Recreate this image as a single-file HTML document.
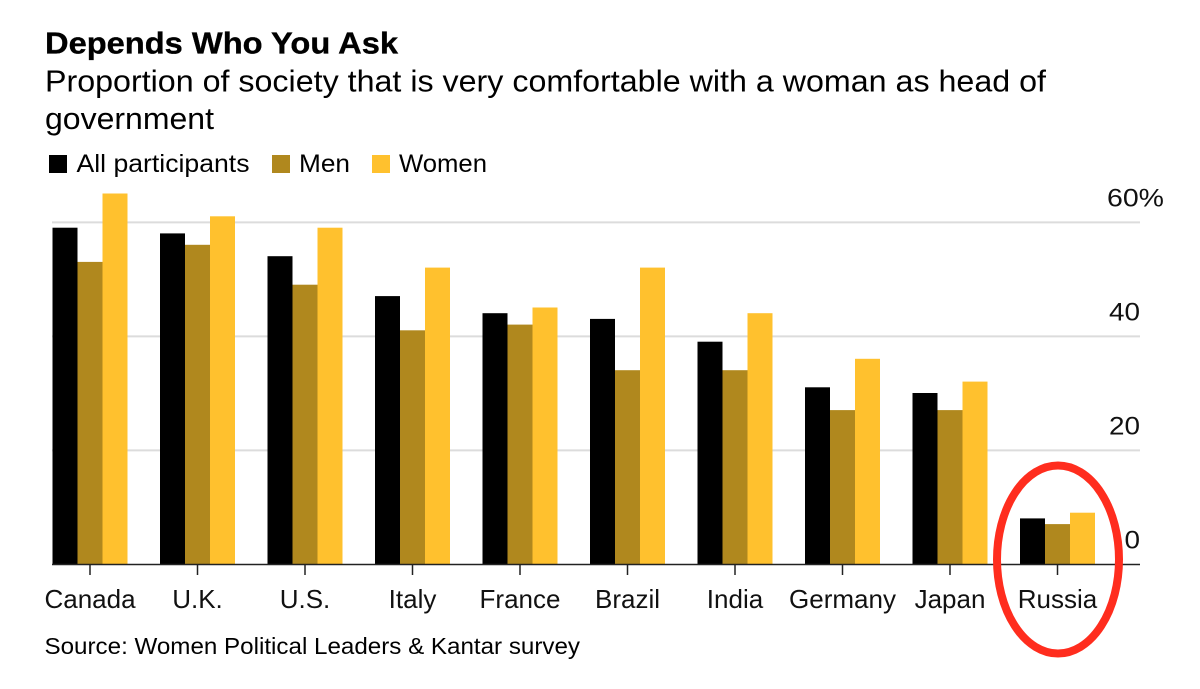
<!DOCTYPE html>
<html lang="en">
<head>
<meta charset="utf-8">
<title>Depends Who You Ask</title>
<style>
html,body{margin:0;padding:0;background:#fff;}
svg{display:block;font-family:"Liberation Sans",Arial,sans-serif;}
</style>
</head>
<body>
<svg id="chart" width="1200" height="689" viewBox="0 0 1200 689" xmlns="http://www.w3.org/2000/svg">
  <rect width="1200" height="689" fill="#fff"/>
  <text x="45" y="53.5" font-size="31" font-weight="700" fill="#000" stroke="#000" stroke-width="0.35" textLength="353" lengthAdjust="spacingAndGlyphs">Depends Who You Ask</text>
  <text x="45" y="91.5" font-size="31" fill="#000" textLength="1001" lengthAdjust="spacingAndGlyphs">Proportion of society that is very comfortable with a woman as head of</text>
  <text x="45" y="129" font-size="31" fill="#000" textLength="169" lengthAdjust="spacingAndGlyphs">government</text>

  <g>
    <rect x="49" y="155" width="18" height="18" fill="#000"/>
    <text x="76.5" y="172" font-size="25" fill="#000" textLength="173" lengthAdjust="spacingAndGlyphs">All participants</text>
    <rect x="272" y="155" width="18" height="18" fill="#B0881E"/>
    <text x="299" y="172" font-size="25" fill="#000" textLength="51" lengthAdjust="spacingAndGlyphs">Men</text>
    <rect x="372" y="155" width="18" height="18" fill="#FFC12E"/>
    <text x="399" y="172" font-size="25" fill="#000" textLength="88" lengthAdjust="spacingAndGlyphs">Women</text>
  </g>

  <g id="grid"></g>
  <g id="yLabels"></g>
  <g id="bars"></g>
  <line x1="52" y1="564.5" x2="1140" y2="564.5" stroke="#222" stroke-width="1.6"/>
  <g id="xAxis"></g>

  <text x="44.5" y="654" font-size="23" fill="#000" textLength="535.5" lengthAdjust="spacingAndGlyphs">Source: Women Political Leaders &amp; Kantar survey</text>

  <ellipse cx="1058" cy="559.5" rx="61" ry="94" fill="none" stroke="#FF2D1E" stroke-width="8"/>
</svg>
<script>
const categories = ["Canada","U.K.","U.S.","Italy","France","Brazil","India","Germany","Japan","Russia"];
const allParticipants = [59,58,54,47,44,43,39,31,30,8];
const men = [53,56,49,41,42,34,34,27,27,7];
const women = [65,61,59,52,45,52,44,36,32,9];
const yTicks = [0,20,40,60];
const yTickLabels = ["0","20","40","60%"];

const NS = "http://www.w3.org/2000/svg";
function yScale(v){ return 564 - v * (342 / 60); }
function xCenter(i){ return 90 + i * ((1057.5 - 90) / 9); }
const BAR_W = 25;

const grid = document.getElementById("grid");
const yLabels = document.getElementById("yLabels");
const bars = document.getElementById("bars");
const xAxis = document.getElementById("xAxis");

yTicks.forEach(function(t, i){
  if (t !== 0) {
    const g = document.createElementNS(NS, "line");
    
    
    g.setAttribute("x1", 52);
    g.setAttribute("x2", 1140);
    g.setAttribute("y1", yScale(t) + 0.4);
    g.setAttribute("y2", yScale(t) + 0.4);
    g.setAttribute("stroke", "#DCDCDC");
    g.setAttribute("stroke-width", "2");
    grid.appendChild(g);
  }
  const label = yTickLabels[i];
  const l = document.createElementNS(NS, "text");
  
  
  l.setAttribute("x", t === 60 ? 1107 : 1140);
  l.setAttribute("y", yScale(t) - 15.5);
  l.setAttribute("font-size", "25");
  l.setAttribute("fill", "#111");
  l.setAttribute("text-anchor", t === 60 ? "start" : "end");
  l.setAttribute("textLength", label.length === 3 ? 57 : label.length * 15.5);
  l.setAttribute("lengthAdjust", "spacingAndGlyphs");
  l.textContent = label;
  yLabels.appendChild(l);
});

const seriesList = [
  { values: allParticipants, color: "#000000", offset: -1.5 },
  { values: men, color: "#B0881E", offset: -0.5 },
  { values: women, color: "#FFC12E", offset: 0.5 }
];

seriesList.forEach(function(s){
  s.values.forEach(function(v, i){
    const r = document.createElementNS(NS, "rect");
    
    
    r.setAttribute("x", xCenter(i) + s.offset * BAR_W);
    r.setAttribute("y", yScale(v));
    r.setAttribute("width", BAR_W);
    r.setAttribute("height", yScale(0) - yScale(v));
    r.setAttribute("fill", s.color);
    bars.appendChild(r);
  });
});

categories.forEach(function(c, i){
  const tick = document.createElementNS(NS, "line");
  
  
  tick.setAttribute("x1", xCenter(i));
  tick.setAttribute("x2", xCenter(i));
  tick.setAttribute("y1", 565);
  tick.setAttribute("y2", 575);
  tick.setAttribute("stroke", "#222");
  tick.setAttribute("stroke-width", "1.5");
  xAxis.appendChild(tick);
  const t = document.createElementNS(NS, "text");
  
  
  t.setAttribute("x", xCenter(i));
  t.setAttribute("y", 608);
  t.setAttribute("font-size", "26");
  t.setAttribute("fill", "#111");
  t.setAttribute("text-anchor", "middle");
  t.textContent = c;
  xAxis.appendChild(t);
});
</script>
</body>
</html>
